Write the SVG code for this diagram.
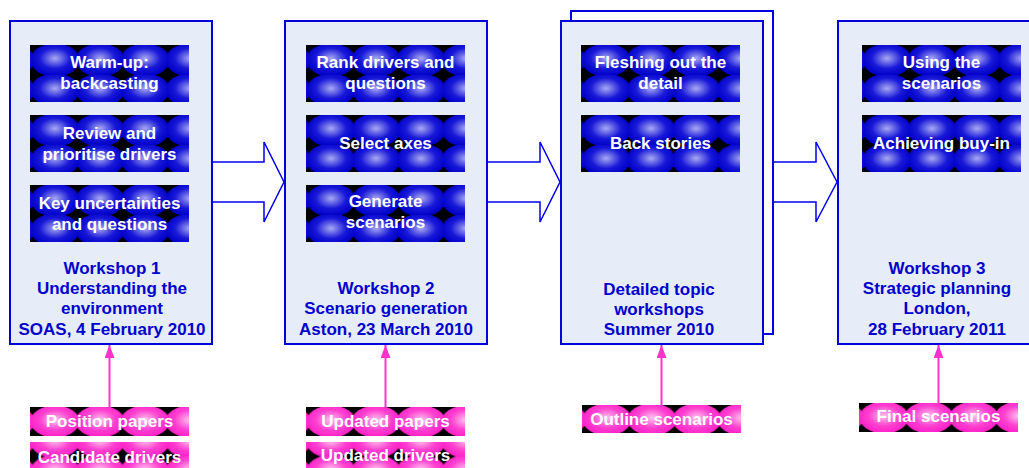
<svg xmlns="http://www.w3.org/2000/svg" width="1029" height="468" viewBox="0 0 1029 468">
<style>
.panel{fill:#E6ECF8;stroke:#0000DD;stroke-width:2}
.back{fill:#FFFFFF;stroke:#0000DD;stroke-width:2}
.arrow{fill:#FFFFFF;stroke:#0000EE;stroke-width:1.5}
.lbl{font-family:"Liberation Sans",Arial,sans-serif;font-weight:bold;font-size:17px;fill:#0000CC;text-anchor:middle}
.wt{font-family:"Liberation Sans",Arial,sans-serif;font-weight:bold;font-size:17px;fill:#FFFFFF;text-anchor:middle}
.conn{stroke:#FF33CC;stroke-width:2;fill:none}
</style>
<defs>
<radialGradient id="gb" cx="50%" cy="45%" r="52%">
<stop offset="0" stop-color="#A8A8F4"/>
<stop offset="0.6" stop-color="#1818D8"/>
<stop offset="1" stop-color="#0000C8"/>
</radialGradient>
<radialGradient id="gp" cx="50%" cy="45%" r="52%">
<stop offset="0" stop-color="#FFC4EE"/>
<stop offset="0.6" stop-color="#FF40D0"/>
<stop offset="1" stop-color="#FF22C8"/>
</radialGradient>
<g id="eb"><ellipse cx="0" cy="0" rx="24.5" ry="16.5" fill="url(#gb)"/></g>
<g id="ep"><ellipse cx="0" cy="0" rx="24.5" ry="16" fill="url(#gp)"/></g>
<pattern id="pb" patternUnits="userSpaceOnUse" x="2.5" y="0" width="45" height="30">
<rect width="45" height="30" fill="#000"/>
<use href="#eb" x="-22.5" y="-15"/><use href="#eb" x="22.5" y="-15"/><use href="#eb" x="67.5" y="-15"/>
<use href="#eb" x="-22.5" y="45"/><use href="#eb" x="22.5" y="45"/><use href="#eb" x="67.5" y="45"/>
<use href="#eb" x="-22.5" y="15"/><use href="#eb" x="67.5" y="15"/>
<use href="#eb" x="22.5" y="15"/>
</pattern>
<pattern id="pp" patternUnits="userSpaceOnUse" x="2.5" y="0" width="45" height="29">
<rect width="45" height="29" fill="#000"/>
<use href="#ep" x="-22.5" y="-14.5"/><use href="#ep" x="22.5" y="-14.5"/><use href="#ep" x="67.5" y="-14.5"/>
<use href="#ep" x="-22.5" y="43.5"/><use href="#ep" x="22.5" y="43.5"/><use href="#ep" x="67.5" y="43.5"/>
<use href="#ep" x="-22.5" y="14.5"/><use href="#ep" x="67.5" y="14.5"/>
<use href="#ep" x="22.5" y="14.5"/>
</pattern>
<pattern id="pp2" href="#pp" y="14.5"/>
<marker id="ah" markerUnits="userSpaceOnUse" markerWidth="13" markerHeight="10" refX="13" refY="5" orient="auto" viewBox="0 0 13 10">
<path d="M0,0 L13,5 L0,10 Z" fill="#FF33CC"/>
</marker>
</defs>

<g id="connectors">
<polygon class="arrow" points="212,162 264,162 264,142 284,182 264,222 264,202 212,202"/>
<polygon class="arrow" points="487,162 540,162 540,142 560,182 540,222 540,202 487,202"/>
<polygon class="arrow" points="773,162 816,162 816,142 837,182 816,222 816,202 773,202"/>
<line class="conn" x1="109.5" y1="407" x2="109.5" y2="345" marker-end="url(#ah)"/>
<line class="conn" x1="385.5" y1="407" x2="385.5" y2="345" marker-end="url(#ah)"/>
<line class="conn" x1="661.5" y1="405" x2="661.5" y2="345" marker-end="url(#ah)"/>
<line class="conn" x1="938.5" y1="403" x2="938.5" y2="345" marker-end="url(#ah)"/>
</g>

<g id="workshop1">
<rect class="panel" x="10" y="21" width="202" height="323"/>
<g transform="translate(30,45)"><rect width="159" height="57" fill="url(#pb)"/></g>
<text class="wt" x="109.5" y="68">Warm-up:</text>
<text class="wt" x="109.5" y="89">backcasting</text>
<g transform="translate(30,115)"><rect width="159" height="57" fill="url(#pb)"/></g>
<text class="wt" x="109.5" y="139">Review and</text>
<text class="wt" x="109.5" y="160">prioritise drivers</text>
<g transform="translate(30,185)"><rect width="159" height="57" fill="url(#pb)"/></g>
<text class="wt" x="109.5" y="209">Key uncertainties</text>
<text class="wt" x="109.5" y="230">and questions</text>
<text class="lbl" x="112" y="274">Workshop 1</text>
<text class="lbl" x="112" y="294">Understanding the</text>
<text class="lbl" x="112" y="314">environment</text>
<text class="lbl" x="112" y="335">SOAS, 4 February 2010</text>
</g>

<g id="workshop2">
<rect class="panel" x="285" y="21" width="202" height="323"/>
<g transform="translate(306,45)"><rect width="159" height="57" fill="url(#pb)"/></g>
<text class="wt" x="385.5" y="68">Rank drivers and</text>
<text class="wt" x="385.5" y="89">questions</text>
<g transform="translate(306,115)"><rect width="159" height="57" fill="url(#pb)"/></g>
<text class="wt" x="385.5" y="149">Select axes</text>
<g transform="translate(306,185)"><rect width="159" height="57" fill="url(#pb)"/></g>
<text class="wt" x="385.5" y="207">Generate</text>
<text class="wt" x="385.5" y="228">scenarios</text>
<text class="lbl" x="386" y="294">Workshop 2</text>
<text class="lbl" x="386" y="314">Scenario generation</text>
<text class="lbl" x="386" y="335">Aston, 23 March 2010</text>
</g>

<g id="topic-workshops">
<rect class="back" x="571" y="11" width="202" height="323"/>
<rect class="panel" x="561" y="21" width="202" height="323"/>
<g transform="translate(581,45)"><rect width="159" height="57" fill="url(#pb)"/></g>
<text class="wt" x="660.5" y="68">Fleshing out the</text>
<text class="wt" x="660.5" y="89">detail</text>
<g transform="translate(581,115)"><rect width="159" height="57" fill="url(#pb)"/></g>
<text class="wt" x="660.5" y="149">Back stories</text>
<text class="lbl" x="659" y="295">Detailed topic</text>
<text class="lbl" x="659" y="315">workshops</text>
<text class="lbl" x="659" y="335">Summer 2010</text>
</g>

<g id="workshop3">
<rect class="panel" x="838" y="21" width="202" height="323"/>
<g transform="translate(862,45)"><rect width="159" height="57" fill="url(#pb)"/></g>
<text class="wt" x="941.5" y="68">Using the</text>
<text class="wt" x="941.5" y="89">scenarios</text>
<g transform="translate(862,115)"><rect width="159" height="57" fill="url(#pb)"/></g>
<text class="wt" x="941.5" y="149">Achieving buy-in</text>
<text class="lbl" x="937" y="274">Workshop 3</text>
<text class="lbl" x="937" y="294">Strategic planning</text>
<text class="lbl" x="937" y="314">London,</text>
<text class="lbl" x="937" y="335">28 February 2011</text>
</g>

<g id="inputs1">
<g transform="translate(30,407)"><rect width="159" height="29" fill="url(#pp)"/></g>
<text class="wt" x="109.5" y="427">Position papers</text>
<g transform="translate(30,442)"><rect width="159" height="29" fill="url(#pp2)"/></g>
<text class="wt" x="109.5" y="462.5">Candidate drivers</text>
</g>

<g id="inputs2">
<g transform="translate(306,407)"><rect width="159" height="29" fill="url(#pp)"/></g>
<text class="wt" x="385.5" y="427">Updated papers</text>
<g transform="translate(306,442)"><rect width="159" height="29" fill="url(#pp2)"/></g>
<text class="wt" x="385.5" y="461">Updated drivers</text>
</g>

<g id="inputs3">
<g transform="translate(582,405)"><rect width="159" height="28" fill="url(#pp)"/></g>
<text class="wt" x="661.5" y="424.5">Outline scenarios</text>
</g>

<g id="inputs4">
<g transform="translate(859,403)"><rect width="159" height="29" fill="url(#pp)"/></g>
<text class="wt" x="938.5" y="422">Final scenarios</text>
</g>
</svg>
